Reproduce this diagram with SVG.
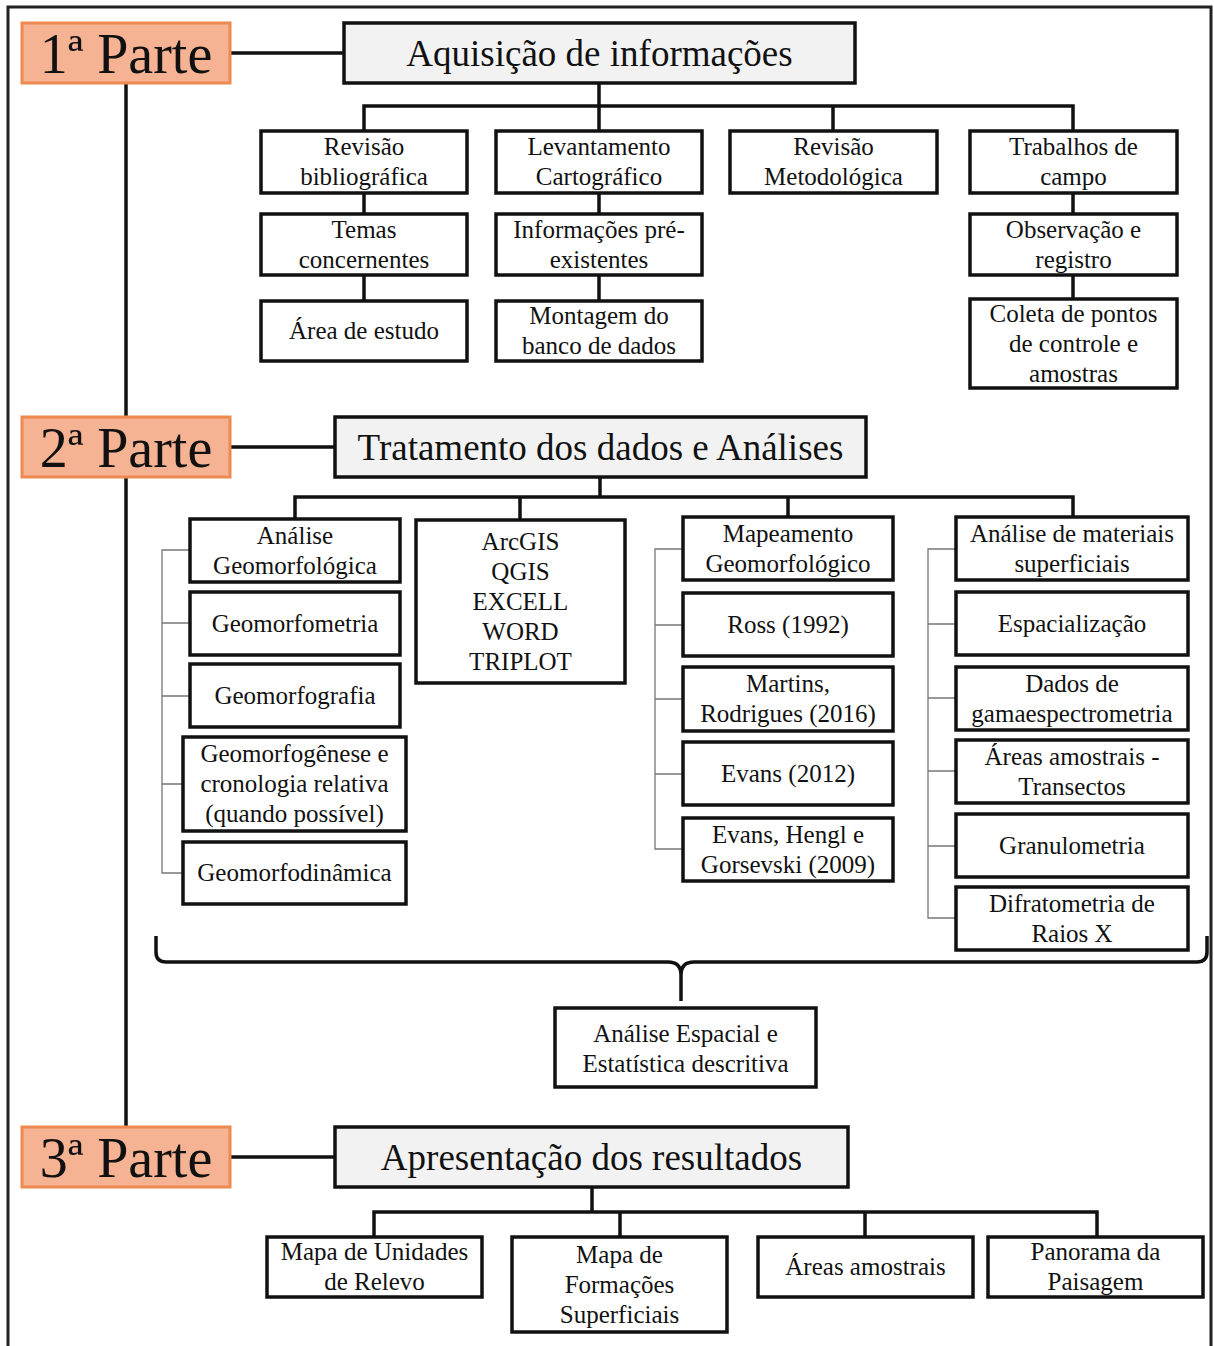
<svg xmlns="http://www.w3.org/2000/svg" width="1214" height="1346" viewBox="0 0 1214 1346">
<style>
text{font-family:"Liberation Serif","Times New Roman",serif;fill:#111;text-anchor:middle}
.b{fill:#fff;stroke:#111;stroke-width:3.5}
.h{fill:#f2f2f2;stroke:#111;stroke-width:3.5}
.p{fill:#f5b393;stroke:#ec8a50;stroke-width:3}
.t{font-size:25px}
.ht{font-size:37px}
.pt{font-size:56px}
.c{fill:none;stroke:#111;stroke-width:3.5}
.thin{fill:none;stroke:#777;stroke-width:1.3}
</style>
<rect x="0" y="0" width="1214" height="1346" fill="#fff"/>
<path d="M8,1346 V7 H1211 V1346" fill="none" stroke="#222" stroke-width="3"/>
<g id="connectors">
<path class="c" d="M126,83 V1127 M230,53 H344 M230,447 H335 M230,1157 H335"/>
<path class="c" d="M364,131 V106 H1073 V131 M599,83 V131 M833,106 V131 M364,193 V214 M364,275 V301 M599,193 V214 M599,275 V301 M1073,193 V214 M1073,275 V299"/>
<path class="c" d="M295,519 V497 H1073 V517 M600,477 V497 M520,497 V520 M788,497 V517"/>
<path class="thin" d="M190,550 H162 V873 H183 M162,623 H190 M162,696 H190 M162,784 H183"/>
<path class="thin" d="M683,549 H655 V849 H683 M655,625 H683 M655,699 H683 M655,774 H683"/>
<path class="thin" d="M956,549 H928 V918 H956 M928,624 H956 M928,698 H956 M928,771 H956 M928,846 H956"/>
<path class="c" d="M156,936 V952 Q156,962 166,962 H668 Q681,962 681,975 V1001 M681,975 Q681,962 694,962 H1197 Q1207,962 1207,952 V936"/>
<path class="c" d="M374,1237 V1212 H1097 V1237 M592,1187 V1212 M620,1212 V1237 M865,1212 V1237"/>
</g>
<g id="parte1"><rect class="p" x="22" y="23" width="208" height="60"/><text class="pt" x="126" y="73">1ª Parte</text></g>
<g id="parte2"><rect class="p" x="22" y="417" width="208" height="60"/><text class="pt" x="126" y="467">2ª Parte</text></g>
<g id="parte3"><rect class="p" x="22" y="1127" width="208" height="60"/><text class="pt" x="126" y="1177">3ª Parte</text></g>
<g id="h1"><rect class="h" x="344" y="23" width="511" height="60"/><text class="ht" x="599.5" y="66">Aquisição de informações</text></g>
<g id="h2"><rect class="h" x="335" y="417" width="531" height="60"/><text class="ht" x="600.5" y="460">Tratamento dos dados e Análises</text></g>
<g id="h3"><rect class="h" x="335" y="1127" width="513" height="60"/><text class="ht" x="591.5" y="1170">Apresentação dos resultados</text></g>
<g class="t">
<g id="n1"><rect class="b" x="261" y="131" width="206" height="62"/><text x="364" y="155">Revisão</text><text x="364" y="185">bibliográfica</text></g>
<g id="n2"><rect class="b" x="496" y="131" width="206" height="62"/><text x="599" y="155">Levantamento</text><text x="599" y="185">Cartográfico</text></g>
<g id="n3"><rect class="b" x="730" y="131" width="207" height="62"/><text x="833.5" y="155">Revisão</text><text x="833.5" y="185">Metodológica</text></g>
<g id="n4"><rect class="b" x="970" y="131" width="207" height="62"/><text x="1073.5" y="155">Trabalhos de</text><text x="1073.5" y="185">campo</text></g>
<g id="n5"><rect class="b" x="261" y="214" width="206" height="61"/><text x="364" y="237.5">Temas</text><text x="364" y="267.5">concernentes</text></g>
<g id="n6"><rect class="b" x="496" y="214" width="206" height="61"/><text x="599" y="237.5">Informações pré-</text><text x="599" y="267.5">existentes</text></g>
<g id="n7"><rect class="b" x="970" y="214" width="207" height="61"/><text x="1073.5" y="237.5">Observação e</text><text x="1073.5" y="267.5">registro</text></g>
<g id="n8"><rect class="b" x="261" y="301" width="206" height="60"/><text x="364" y="339">Área de estudo</text></g>
<g id="n9"><rect class="b" x="496" y="301" width="206" height="60"/><text x="599" y="324">Montagem do</text><text x="599" y="354">banco de dados</text></g>
<g id="n10"><rect class="b" x="970" y="299" width="207" height="89"/><text x="1073.5" y="321.5">Coleta de pontos</text><text x="1073.5" y="351.5">de controle e</text><text x="1073.5" y="381.5">amostras</text></g>

<g id="a1"><rect class="b" x="190" y="519" width="210" height="63"/><text x="295" y="543.5">Análise</text><text x="295" y="573.5">Geomorfológica</text></g>
<g id="a2"><rect class="b" x="190" y="592" width="210" height="63"/><text x="295" y="631.5">Geomorfometria</text></g>
<g id="a3"><rect class="b" x="190" y="664" width="210" height="63"/><text x="295" y="703.5">Geomorfografia</text></g>
<g id="a4"><rect class="b" x="183" y="737" width="223" height="94"/><text x="294.5" y="762">Geomorfogênese e</text><text x="294.5" y="792">cronologia relativa</text><text x="294.5" y="822">(quando possível)</text></g>
<g id="a5"><rect class="b" x="183" y="842" width="223" height="62"/><text x="294.5" y="881">Geomorfodinâmica</text></g>

<g id="s1"><rect class="b" x="416" y="520" width="209" height="163"/><text x="520.5" y="549.5">ArcGIS</text><text x="520.5" y="579.5">QGIS</text><text x="520.5" y="609.5">EXCELL</text><text x="520.5" y="639.5">WORD</text><text x="520.5" y="669.5">TRIPLOT</text></g>

<g id="m1"><rect class="b" x="683" y="517" width="210" height="63"/><text x="788" y="541.5">Mapeamento</text><text x="788" y="571.5">Geomorfológico</text></g>
<g id="m2"><rect class="b" x="683" y="593" width="210" height="63"/><text x="788" y="632.5">Ross (1992)</text></g>
<g id="m3"><rect class="b" x="683" y="667" width="210" height="64"/><text x="788" y="692">Martins,</text><text x="788" y="722">Rodrigues (2016)</text></g>
<g id="m4"><rect class="b" x="683" y="742" width="210" height="63"/><text x="788" y="781.5">Evans (2012)</text></g>
<g id="m5"><rect class="b" x="683" y="818" width="210" height="63"/><text x="788" y="842.5">Evans, Hengl e</text><text x="788" y="872.5">Gorsevski (2009)</text></g>

<g id="r1"><rect class="b" x="956" y="517" width="232" height="63"/><text x="1072" y="541.5">Análise de materiais</text><text x="1072" y="571.5">superficiais</text></g>
<g id="r2"><rect class="b" x="956" y="592" width="232" height="63"/><text x="1072" y="631.5">Espacialização</text></g>
<g id="r3"><rect class="b" x="956" y="667" width="232" height="63"/><text x="1072" y="691.5">Dados de</text><text x="1072" y="721.5">gamaespectrometria</text></g>
<g id="r4"><rect class="b" x="956" y="740" width="232" height="63"/><text x="1072" y="764.5">Áreas amostrais -</text><text x="1072" y="794.5">Transectos</text></g>
<g id="r5"><rect class="b" x="956" y="814" width="232" height="63"/><text x="1072" y="853.5">Granulometria</text></g>
<g id="r6"><rect class="b" x="956" y="887" width="232" height="63"/><text x="1072" y="911.5">Difratometria de</text><text x="1072" y="941.5">Raios X</text></g>

<g id="e1"><rect class="b" x="555" y="1008" width="261" height="79"/><text x="685.5" y="1041.5">Análise Espacial e</text><text x="685.5" y="1071.5">Estatística descritiva</text></g>

<g id="o1"><rect class="b" x="267" y="1237" width="215" height="60"/><text x="374.5" y="1260">Mapa de Unidades</text><text x="374.5" y="1290">de Relevo</text></g>
<g id="o2"><rect class="b" x="512" y="1237" width="215" height="95"/><text x="619.5" y="1262.5">Mapa de</text><text x="619.5" y="1292.5">Formações</text><text x="619.5" y="1322.5">Superficiais</text></g>
<g id="o3"><rect class="b" x="758" y="1237" width="215" height="60"/><text x="865.5" y="1275">Áreas amostrais</text></g>
<g id="o4"><rect class="b" x="988" y="1237" width="215" height="60"/><text x="1095.5" y="1260">Panorama da</text><text x="1095.5" y="1290">Paisagem</text></g>
</g>
</svg>
